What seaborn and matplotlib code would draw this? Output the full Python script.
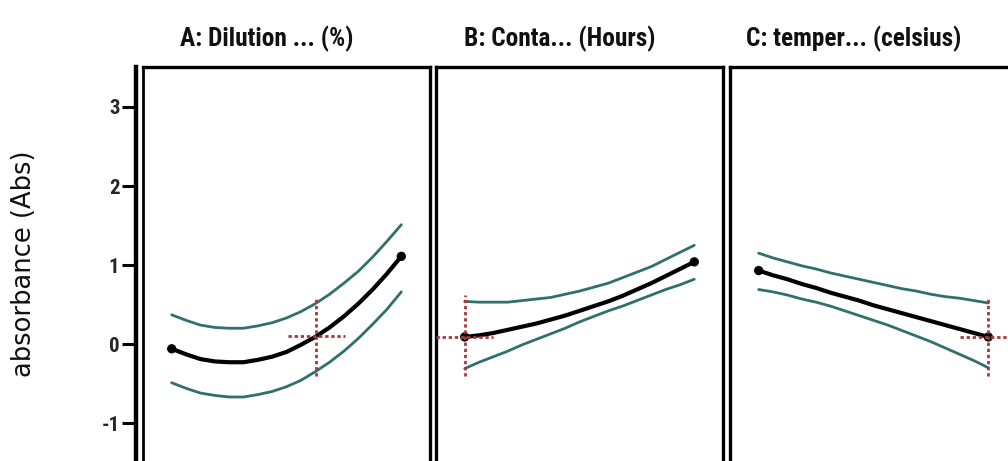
import pandas as pd
import matplotlib.pyplot as plt
import seaborn as sns
from matplotlib import font_manager

# coded factor levels (-1 = low, +1 = high)
coded_x = [-1, -0.875, -0.75, -0.625, -0.5, -0.375, -0.25, -0.125, 0,
           0.125, 0.25, 0.375, 0.5, 0.625, 0.75, 0.875, 1]

# A: Dilution
a_mean = [-0.06, -0.13, -0.19, -0.22, -0.23, -0.23, -0.20, -0.16, -0.10,
          -0.01, 0.09, 0.21, 0.35, 0.51, 0.69, 0.89, 1.11]
a_upper = [0.37, 0.30, 0.24, 0.21, 0.20, 0.20, 0.23, 0.27, 0.33,
           0.41, 0.51, 0.63, 0.77, 0.92, 1.10, 1.30, 1.51]
a_lower = [-0.49, -0.56, -0.62, -0.65, -0.67, -0.67, -0.64, -0.60, -0.54,
           -0.46, -0.35, -0.23, -0.09, 0.07, 0.25, 0.44, 0.66]
# B: Contact time
b_mean = [0.09, 0.11, 0.14, 0.18, 0.22, 0.26, 0.31, 0.36, 0.42,
          0.48, 0.54, 0.61, 0.69, 0.77, 0.86, 0.95, 1.04]
b_upper = [0.54, 0.53, 0.53, 0.53, 0.55, 0.57, 0.59, 0.63, 0.67,
           0.72, 0.77, 0.84, 0.91, 0.98, 1.07, 1.16, 1.25]
b_lower = [-0.31, -0.23, -0.16, -0.09, -0.01, 0.06, 0.13, 0.20, 0.28,
           0.35, 0.42, 0.48, 0.55, 0.62, 0.69, 0.75, 0.82]
# C: temperature
c_mean = [0.93, 0.87, 0.82, 0.76, 0.71, 0.65, 0.60, 0.55, 0.49,
          0.44, 0.39, 0.34, 0.29, 0.24, 0.19, 0.14, 0.09]
c_upper = [1.15, 1.09, 1.04, 0.99, 0.95, 0.90, 0.86, 0.82, 0.78,
           0.74, 0.70, 0.67, 0.63, 0.60, 0.58, 0.55, 0.52]
c_lower = [0.69, 0.66, 0.62, 0.57, 0.53, 0.48, 0.42, 0.36, 0.30,
           0.24, 0.17, 0.10, 0.03, -0.05, -0.13, -0.21, -0.30]

titles = ["A: Dilution ... (%)", "B: Conta... (Hours)", "C: temper... (celsius)"]
y_label = "absorbance (Abs)"
y_ticks = [-1, 0, 1, 2, 3]

# current setting crosshair per factor
cross_x = [0.26, -1, 1]
cross_y = [0.10, 0.09, 0.09]
cross_lo = [-0.40, -0.41, -0.41]
cross_hi = [0.60, 0.62, 0.60]

rows = []
for name, mean, upper, lower in zip(titles, [a_mean, b_mean, c_mean],
                                    [a_upper, b_upper, c_upper],
                                    [a_lower, b_lower, c_lower]):
    for part, vals in (("mean", mean), ("upper", upper), ("lower", lower)):
        for x, y in zip(coded_x, vals):
            rows.append({"factor": name, "part": part, "x": x, "y": y})
df = pd.DataFrame(rows)

sns.set_theme(style="white")
plt.rcParams["font.family"] = ["DejaVu Sans"]

# pick a narrow face for the titles if one is installed
fonts = font_manager.fontManager.ttflist
narrow = {"family": "Roboto"}
for f in fonts:
    if f.name in ("Roboto Condensed", "Liberation Sans Narrow", "Open Sans Condensed"):
        narrow = {"family": f.name}
        break
else:
    for f in fonts:
        if f.name == "DejaVu Sans" and "condensed" in str(f.stretch):
            narrow = {"family": "DejaVu Sans", "stretch": "condensed"}
            break

band_color = "#2f706c"
red = "#a8383a"

W, H = 1008, 461
fig = plt.figure(figsize=(W / 100, H / 100), dpi=100)
lefts = [143, 436, 730]
width = 287
top = 67

for i, (name, left) in enumerate(zip(titles, lefts)):
    ax = fig.add_axes([left / W, 0, width / W, 1 - top / H])
    sub = df[df.factor == name]
    sns.lineplot(data=sub[sub.part == "upper"], x="x", y="y", color=band_color,
                 lw=2, ax=ax)
    sns.lineplot(data=sub[sub.part == "lower"], x="x", y="y", color=band_color,
                 lw=2, ax=ax)
    mean = sub[sub.part == "mean"]
    sns.lineplot(data=mean, x="x", y="y", color="black", lw=3, ax=ax)
    ends = mean.iloc[[0, -1]]
    sns.scatterplot(data=ends, x="x", y="y", color="black", s=45, ax=ax,
                    zorder=5, edgecolor="none")

    ax.vlines(cross_x[i], cross_lo[i], cross_hi[i], colors=red, lw=2,
              linestyles=(0, (1.2, 1.0)), zorder=6, clip_on=False)
    ax.hlines(cross_y[i], cross_x[i] - 0.25, cross_x[i] + 0.25, colors=red, lw=2,
              linestyles=(0, (1.2, 1.0)), zorder=6, clip_on=False)

    ax.set_xlim(-1.25, 1.25)
    ax.set_ylim(-1.48, 3.506)
    ax.set_xlabel("")
    ax.set_ylabel("")
    ax.set_xticks([])
    ax.spines["bottom"].set_visible(False)
    for s in ("top", "left", "right"):
        ax.spines[s].set_color("black")
        ax.spines[s].set_linewidth(2.4)

    ax.text(0.43, 1 + 28 / (H - top), name, transform=ax.transAxes,
            ha="center", va="center", color="#111111", fontsize=18.3,
            fontweight="bold", **narrow)

    if i == 0:
        ax.spines["left"].set_position(("outward", 5))
        ax.spines["left"].set_linewidth(3.2)
        ax.axvline(ax.get_xlim()[0], color="black", lw=2, clip_on=False)
        ax.set_yticks(y_ticks)
        ax.set_yticklabels([str(t) for t in y_ticks], fontsize=15,
                           fontweight="bold", **narrow)
        ax.tick_params(axis="y", left=True, length=10, width=2.2, pad=2,
                       color="black")
    else:
        ax.set_yticks([])

fig.text(24 / W, 1 - 264 / H, y_label, rotation=90, ha="center", va="center",
         fontsize=18.5, color="#111111")

fig.savefig("out.png", dpi=100)
